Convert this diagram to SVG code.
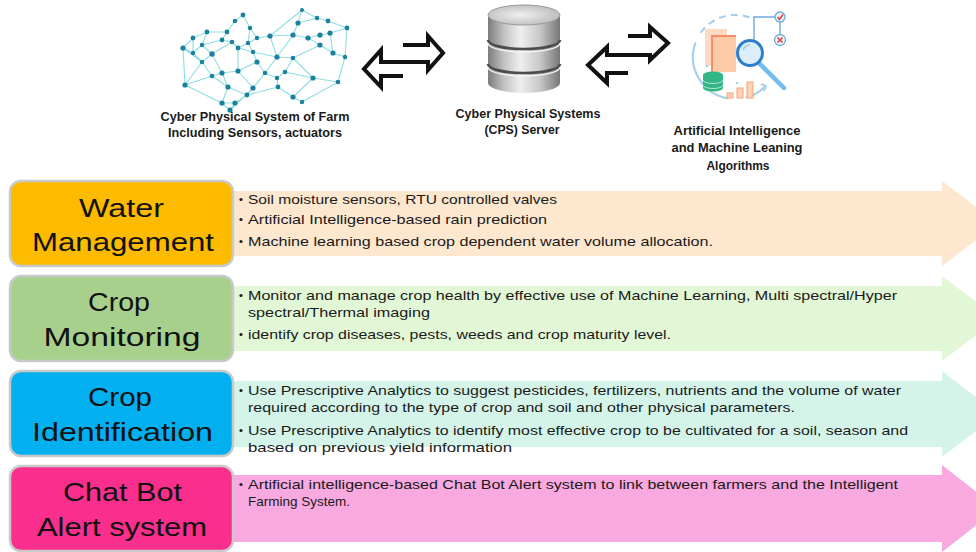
<svg xmlns="http://www.w3.org/2000/svg" width="976" height="552" viewBox="0 0 976 552">
  <style>
    .lbl { font-family: "Liberation Sans", Arial, sans-serif; font-weight: bold; font-size: 12.5px; fill: #1a1a1a; text-anchor: middle; }
    .title { font-family: "Liberation Sans", Arial, sans-serif; font-size: 25.5px; fill: #111; text-anchor: middle; }
    .item { font-family: "Liberation Sans", Arial, sans-serif; font-size: 13.5px; fill: #1a1a1a; }
    .box { stroke: #c9c9c9; stroke-width: 2.5; }
    .dot { fill: #1e1e1e; }
    .dbl { fill: #fff; stroke: #111; stroke-width: 4; stroke-linejoin: miter; }
    .edge { stroke: #8fdde1; stroke-width: 1.1; fill: none; }
    .node { fill: #1a819d; }
  </style>
  <defs>
    <linearGradient id="silver" x1="0" y1="0" x2="1" y2="0">
      <stop offset="0" stop-color="#7c7c7c"/>
      <stop offset="0.22" stop-color="#c2c2c2"/>
      <stop offset="0.45" stop-color="#efefef"/>
      <stop offset="0.72" stop-color="#c8c8c8"/>
      <stop offset="1" stop-color="#777"/>
    </linearGradient>
    <radialGradient id="silverTop" cx="0.45" cy="0.5" r="0.6">
      <stop offset="0" stop-color="#f0f0f0"/>
      <stop offset="1" stop-color="#b9b9b9"/>
    </radialGradient>
  </defs>

  <rect width="976" height="552" fill="#fff"/>

  <!-- Farm sensor network -->
  <g id="farm-cps">
    <path class="edge" d="M243,15 L235,21 M243,15 L250,28 M235,21 L227,32 M250,28 L257,38 M250,28 L248,43 M227,32 L207,32 M227,32 L222,40 M207,32 L193,38 M207,32 L202,45 M193,38 L183,48 M193,38 L193,53 M183,48 L193,53 M183,48 L185,85 M193,53 L202,45 M193,53 L202,62 M202,45 L212,54 M202,45 L222,40 M212,54 L202,62 M212,54 L222,73 M212,54 L232,42 M222,40 L232,42 M232,42 L238,48 M238,48 L248,43 M238,48 L253,52 M257,38 L270,36 M257,38 L248,43 M270,36 L293,35 M270,36 L277,57 M248,43 L253,52 M253,52 L257,62 M253,52 L277,57 M257,62 L238,71 M257,62 L265,73 M202,62 L212,76 M202,62 L185,85 M222,73 L238,71 M222,73 L212,76 M222,73 L228,87 M238,71 L253,88 M228,87 L212,76 M228,87 L222,103 M228,87 L247,95 M212,76 L185,85 M185,85 L222,103 M253,88 L265,73 M253,88 L247,95 M265,73 L277,78 M277,78 L285,72 M277,78 L278,87 M285,72 L293,58 M285,72 L313,78 M278,87 L293,97 M278,87 L247,95 M247,95 L235,103 M235,103 L222,103 M235,103 L230,110 M222,103 L230,110 M293,97 L302,102 M293,97 L313,78 M302,102 L338,82 M298,23 L293,35 M298,23 L302,10 M298,23 L317,18 M308,38 L320,35 M308,38 L293,35 M308,38 L320,45 M317,18 L328,21 M320,35 L330,33 M328,21 L347,28 M330,33 L333,53 M320,45 L293,58 M320,45 L333,53 M293,35 L277,57 M293,58 L277,57 M293,58 L313,78 M313,78 L338,82 M338,82 L345,57 M333,53 L345,57 M347,28 L345,57 M347,28 L330,33 M302,10 L270,36 M302,10 L317,18 M265,73 L277,57 M238,48 L238,71 M230,110 L253,88 M183,48 L202,62"/>
    <g class="node">
      <circle cx="243" cy="15" r="2.4"/><circle cx="235" cy="21" r="2.3"/><circle cx="250" cy="28" r="2.2"/>
      <circle cx="227" cy="32" r="2.4"/><circle cx="207" cy="32" r="2.4"/><circle cx="193" cy="38" r="2.4"/>
      <circle cx="183" cy="48" r="2.6"/><circle cx="193" cy="53" r="2.2"/><circle cx="202" cy="45" r="2.2"/>
      <circle cx="212" cy="54" r="2.7"/><circle cx="202" cy="62" r="2.3"/><circle cx="222" cy="40" r="2.4"/>
      <circle cx="232" cy="42" r="2.3"/><circle cx="238" cy="48" r="2.4"/><circle cx="257" cy="38" r="2.2"/>
      <circle cx="270" cy="36" r="2.6"/><circle cx="248" cy="43" r="2.2"/><circle cx="253" cy="52" r="2.2"/>
      <circle cx="257" cy="62" r="2.6"/><circle cx="222" cy="73" r="2.6"/><circle cx="238" cy="71" r="2.6"/>
      <circle cx="228" cy="87" r="2.6"/><circle cx="212" cy="76" r="2.3"/><circle cx="185" cy="85" r="2.6"/>
      <circle cx="253" cy="88" r="2.6"/><circle cx="265" cy="73" r="2.3"/><circle cx="277" cy="78" r="2.2"/>
      <circle cx="285" cy="72" r="2.3"/><circle cx="278" cy="87" r="2.4"/><circle cx="247" cy="95" r="2.4"/>
      <circle cx="235" cy="103" r="2.6"/><circle cx="222" cy="103" r="2.6"/><circle cx="230" cy="110" r="2.6"/>
      <circle cx="293" cy="97" r="2.6"/><circle cx="302" cy="102" r="2.2"/><circle cx="298" cy="23" r="2.6"/>
      <circle cx="308" cy="38" r="2.6"/><circle cx="317" cy="18" r="2.2"/><circle cx="320" cy="35" r="2.6"/>
      <circle cx="328" cy="21" r="2.4"/><circle cx="330" cy="33" r="2.6"/><circle cx="320" cy="45" r="2.6"/>
      <circle cx="293" cy="35" r="2.6"/><circle cx="293" cy="58" r="2.3"/><circle cx="277" cy="57" r="2.6"/>
      <circle cx="313" cy="78" r="2.6"/><circle cx="338" cy="82" r="2.3"/><circle cx="333" cy="53" r="2.6"/>
      <circle cx="347" cy="28" r="2.4"/><circle cx="345" cy="57" r="2.2"/><circle cx="302" cy="10" r="2"/>
    </g>
    <text class="lbl" x="255" y="121" textLength="189" lengthAdjust="spacingAndGlyphs">Cyber Physical System of Farm</text>
    <text class="lbl" x="255" y="137" textLength="174" lengthAdjust="spacingAndGlyphs">Including Sensors, actuators</text>
  </g>

  <!-- Database server -->
  <g id="cps-server">
    <path d="M488,15 V83 A36,10 0 0 0 560,83 V15 Z" fill="url(#silver)"/>
    <path d="M488,40 A36,9 0 0 0 560,40" fill="none" stroke="#4d4d4d" stroke-width="2.6"/>
    <path d="M488,43 A36,9 0 0 0 560,43" fill="none" stroke="#f2f2f2" stroke-width="1.4"/>
    <path d="M488,64 A36,9 0 0 0 560,64" fill="none" stroke="#4d4d4d" stroke-width="2.6"/>
    <path d="M488,67 A36,9 0 0 0 560,67" fill="none" stroke="#f2f2f2" stroke-width="1.4"/>
    <ellipse cx="524" cy="15" rx="36" ry="10" fill="url(#silverTop)" stroke="#9a9a9a" stroke-width="1"/>
    <text class="lbl" x="528" y="118" textLength="145" lengthAdjust="spacingAndGlyphs">Cyber Physical Systems</text>
    <text class="lbl" x="522" y="134" textLength="75" lengthAdjust="spacingAndGlyphs">(CPS) Server</text>
  </g>

  <!-- Analytics icon -->
  <g id="ai-ml">
    <path d="M695.5,42.6 A42,42 0 0 0 727.7,98.4" fill="none" stroke="#a9cfee" stroke-width="2.2"/>
    <path d="M700.6,32.9 A42,42 0 0 1 749.4,17.5" fill="none" stroke="#a9cfee" stroke-width="2.2" stroke-dasharray="7 5"/>
    <path d="M745.9,97.6 A42,42 0 0 0 764.7,86.7" fill="none" stroke="#a9cfee" stroke-width="2.2"/>
    <path d="M761,84 L766,86 L764,91" fill="none" stroke="#a9cfee" stroke-width="2"/>
    <rect x="705" y="29" width="22" height="37" fill="#fddbc2"/>
    <rect x="712" y="36" width="24" height="36" fill="#fccaa6"/>
    <path d="M712,72 V36 H736" fill="none" stroke="#f58c6c" stroke-width="2"/>
    <path d="M754,40 V17 H775 M780,22 V34.5" fill="none" stroke="#6fa8dc" stroke-width="1.4"/>
    <circle cx="780" cy="17" r="5" fill="#eaf3fb" stroke="#6fa8dc" stroke-width="1.3"/>
    <path d="M777.5,17 L779.5,19.5 L783,14.5" fill="none" stroke="#e0463c" stroke-width="1.6"/>
    <circle cx="780" cy="40" r="5.5" fill="#eaf3fb" stroke="#6fa8dc" stroke-width="1.3"/>
    <path d="M777.5,37.5 L782.5,42.5 M782.5,37.5 L777.5,42.5" stroke="#e0463c" stroke-width="1.6"/>
    <line x1="758" y1="62" x2="784" y2="88" stroke="#72bcef" stroke-width="4.5" stroke-linecap="round"/>
    <circle cx="750" cy="53" r="12.5" fill="#dcedfb" stroke="#2e7fcb" stroke-width="3"/>
    <path d="M743,50 A8,8 0 0 1 750,45" fill="none" stroke="#9cc8ee" stroke-width="1.5"/>
    <g fill="#34b586">
      <ellipse cx="713" cy="88" rx="10" ry="3.5"/>
      <rect x="703" y="75" width="20" height="13"/>
      <ellipse cx="713" cy="75" rx="10" ry="3.5"/>
    </g>
    <path d="M703,80 A10,3.5 0 0 0 723,80 M703,85 A10,3.5 0 0 0 723,85" fill="none" stroke="#aee8cf" stroke-width="1"/>
    <g fill="#fdd3b5" stroke="#f5a27b" stroke-width="1">
      <rect x="727" y="93" width="6" height="5"/>
      <rect x="737" y="88" width="6" height="10"/>
      <rect x="747" y="82" width="6" height="16"/>
    </g>
    <circle cx="707" cy="66" r="1.2" fill="#a9cfee"/>
    <circle cx="737" cy="83" r="1.2" fill="#a9cfee"/>
    <text class="lbl" x="737" y="135" textLength="127" lengthAdjust="spacingAndGlyphs">Artificial Intelligence</text>
    <text class="lbl" x="737" y="152" textLength="131" lengthAdjust="spacingAndGlyphs">and Machine Leaning</text>
    <text class="lbl" x="738" y="170" textLength="63" lengthAdjust="spacingAndGlyphs">Algorithms</text>
  </g>

  <!-- Data exchange arrows between the three systems -->
  <g id="connectors">
    <path class="dbl" d="M403,45 H428 V36 L443,53 L428,70 V62 H381 V50 L364,69 L381,87 V76 H403"/>
    <path class="dbl" d="M628,36 H650 V27 L668,43 L650,60 V55 H607 V47 L588,65 L607,83 V73 H628"/>
  </g>

  <!-- Water Management -->
  <g id="water-management">
    <polygon points="228,191 942,191 942,181 998,223.5 942,266 942,256 228,256" fill="#fde7cf"/>
    <rect class="box" x="10" y="181" width="223" height="85" rx="11" fill="#fdbb00"/>
    <text class="title" x="121.5" y="217" textLength="85" lengthAdjust="spacingAndGlyphs">Water</text>
    <text class="title" x="123" y="251" textLength="182" lengthAdjust="spacingAndGlyphs">Management</text>
    <circle class="dot" cx="241" cy="199.5" r="1.6"/>
    <circle class="dot" cx="241" cy="219.5" r="1.6"/>
    <circle class="dot" cx="241" cy="241.5" r="1.6"/>
    <text class="item" x="248" y="204" textLength="309" lengthAdjust="spacingAndGlyphs">Soil moisture sensors, RTU controlled valves</text>
    <text class="item" x="248" y="224" textLength="299" lengthAdjust="spacingAndGlyphs">Artificial Intelligence-based rain prediction</text>
    <text class="item" x="248" y="246" textLength="465" lengthAdjust="spacingAndGlyphs">Machine learning based crop dependent water volume allocation.</text>
  </g>

  <!-- Crop Monitoring -->
  <g id="crop-monitoring">
    <polygon points="228,286 942,286 942,276 998,318.5 942,361 942,351 228,351" fill="#e2f7d5"/>
    <rect class="box" x="10" y="276" width="223" height="85" rx="11" fill="#a8d08d"/>
    <text class="title" x="119" y="311" textLength="62" lengthAdjust="spacingAndGlyphs">Crop</text>
    <text class="title" x="122" y="346" textLength="157" lengthAdjust="spacingAndGlyphs">Monitoring</text>
    <circle class="dot" cx="241" cy="295.5" r="1.6"/>
    <circle class="dot" cx="241" cy="334.5" r="1.6"/>
    <text class="item" x="248" y="300" textLength="649" lengthAdjust="spacingAndGlyphs">Monitor and manage crop health by effective use of Machine Learning, Multi spectral/Hyper</text>
    <text class="item" x="248" y="317" textLength="182" lengthAdjust="spacingAndGlyphs">spectral/Thermal imaging</text>
    <text class="item" x="248" y="339" textLength="423" lengthAdjust="spacingAndGlyphs">identify crop diseases, pests, weeds and crop maturity level.</text>
  </g>

  <!-- Crop Identification -->
  <g id="crop-identification">
    <polygon points="228,381 942,381 942,371 998,414 942,457 942,447 228,447" fill="#d4f4ea"/>
    <rect class="box" x="10" y="371" width="223" height="85" rx="11" fill="#02afef"/>
    <text class="title" x="120" y="406" textLength="64" lengthAdjust="spacingAndGlyphs">Crop</text>
    <text class="title" x="122.5" y="441" textLength="181" lengthAdjust="spacingAndGlyphs">Identification</text>
    <circle class="dot" cx="241" cy="390.5" r="1.6"/>
    <circle class="dot" cx="241" cy="430.5" r="1.6"/>
    <text class="item" x="248" y="395" textLength="653" lengthAdjust="spacingAndGlyphs">Use Prescriptive Analytics to suggest pesticides, fertilizers, nutrients and the volume of water</text>
    <text class="item" x="248" y="412" textLength="547" lengthAdjust="spacingAndGlyphs">required according to the type of crop and soil and other physical parameters.</text>
    <text class="item" x="248" y="435" textLength="660" lengthAdjust="spacingAndGlyphs">Use Prescriptive Analytics to identify most effective crop to be cultivated for a soil, season and</text>
    <text class="item" x="248" y="452" textLength="264" lengthAdjust="spacingAndGlyphs">based on previous yield information</text>
  </g>

  <!-- Chat Bot Alert system -->
  <g id="chat-bot-alert">
    <polygon points="228,475 942,475 942,465 998,508.5 942,552 942,542 228,542" fill="#f8a9e0"/>
    <rect class="box" x="10" y="466" width="223" height="85" rx="11" fill="#fa2e8c"/>
    <text class="title" x="122.5" y="501" textLength="119" lengthAdjust="spacingAndGlyphs">Chat Bot</text>
    <text class="title" x="122" y="536" textLength="170" lengthAdjust="spacingAndGlyphs">Alert system</text>
    <circle class="dot" cx="241" cy="484.5" r="1.6"/>
    <text class="item" x="248" y="489" textLength="650" lengthAdjust="spacingAndGlyphs">Artificial intelligence-based Chat Bot Alert system to link between farmers and the Intelligent</text>
    <text class="item" x="248" y="506">Farming System.</text>
  </g>
</svg>
